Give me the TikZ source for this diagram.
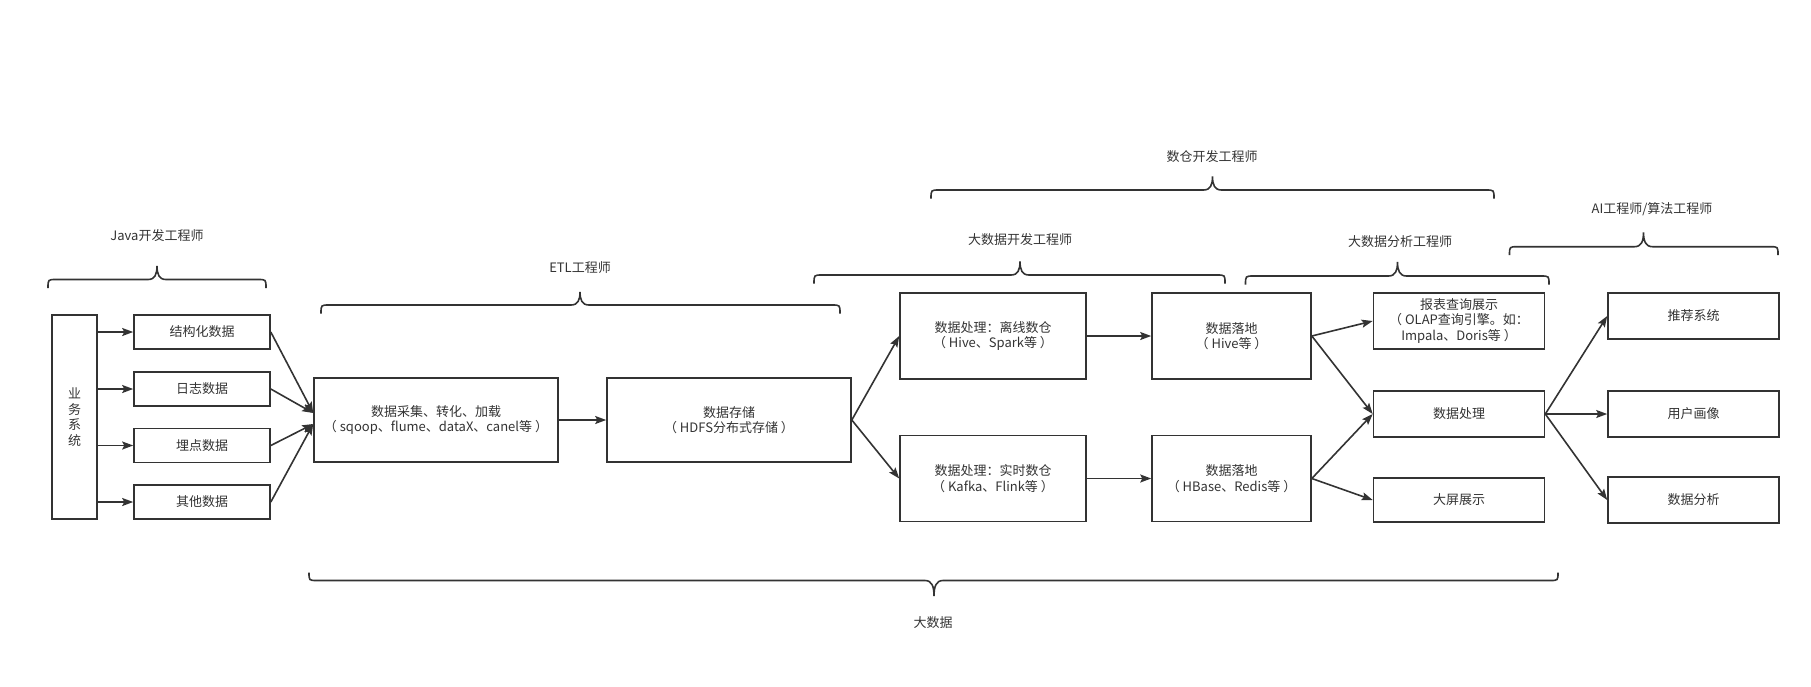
\documentclass[tikz,border=0pt]{standalone}
\usepackage{fontspec}
\setmainfont{Noto Sans CJK SC}
\usetikzlibrary{arrows.meta,calc}
\definecolor{lc}{HTML}{333333}
\definecolor{tc}{HTML}{333333}
\newcommand{\mybrace}[6]{% x1,x2,xt,yline,yend,ytip
  \draw[bracestyle] (#1,#5) .. controls (#1,#4) .. ({#1+8},#4) -- ({#3-9},#4)
    .. controls ({#3-2},#4) and (#3,{#4+(#6-#4)*0.4}) .. (#3,#6)
    .. controls (#3,{#4+(#6-#4)*0.4}) and ({#3+2},#4) .. ({#3+9},#4)
    -- ({#2-8},#4) .. controls (#2,#4) .. (#2,#5);}
\begin{document}
\begin{tikzpicture}[x=1pt,y=-1pt,
  box/.style={draw=lc, line width=1.6pt, inner sep=0pt, align=center, text=tc,
    font=\fontsize{13}{15.5}\selectfont},
  lbl/.style={inner sep=0pt, text=tc, font=\fontsize{13}{15.5}\selectfont},
  arr/.style={draw=lc, line width=1.6pt, -{Stealth[length=11pt,width=8pt,inset=2pt]}},
  bracestyle/.style={draw=lc, line width=1.6pt}]
\useasboundingbox (0,0) rectangle (1811,686);
% nodes
\node[box, minimum width=45pt, minimum height=204pt] (sys) at (74.5,417)
  {\baselineskip=17pt 业\\务\\系\\统};
\node[box, minimum width=136pt, minimum height=34pt] (s1) at (202,332) {结构化数据};
\node[box, minimum width=136pt, minimum height=34pt] (s2) at (202,389) {日志数据};
\node[box, minimum width=136pt, minimum height=34pt] (s3) at (202,445.5) {埋点数据};
\node[box, minimum width=136pt, minimum height=34pt] (s4) at (202,502) {其他数据};
\node[box, minimum width=244pt, minimum height=84pt] (etl) at (436,420)
  {数据采集、转化、加载\\（ sqoop、flume、dataX、canel等 ）};
\node[box, minimum width=244pt, minimum height=84pt] (store) at (729,420)
  {数据存储\\（ HDFS分布式存储 ）};
\node[box, minimum width=186pt, minimum height=86pt] (off) at (993,336)
  {数据处理：离线数仓\\（ Hive、Spark等 ）};
\node[box, minimum width=186pt, minimum height=86pt] (rt) at (993,478.5)
  {数据处理：实时数仓\\（ Kafka、Flink等 ）};
\node[box, minimum width=159pt, minimum height=86pt] (hive) at (1231.5,336)
  {数据落地\\（ Hive等 ）};
\node[box, minimum width=159pt, minimum height=86pt] (hbase) at (1231.5,478.5)
  {数据落地\\（ HBase、Redis等 ）};
\node[box, minimum width=171pt, minimum height=56pt] (rep) at (1459,321)
  {报表查询展示\\（ OLAP查询引擎。如：\\Impala、Doris等 ）};
\node[box, minimum width=171pt, minimum height=46pt] (proc) at (1459,414) {数据处理};
\node[box, minimum width=171pt, minimum height=44pt] (scr) at (1459,500) {大屏展示};
\node[box, minimum width=171pt, minimum height=46pt] (rec) at (1693.5,316) {推荐系统};
\node[box, minimum width=171pt, minimum height=46pt] (user) at (1693.5,414) {用户画像};
\node[box, minimum width=171pt, minimum height=46pt] (ana) at (1693.5,500) {数据分析};
% connectors
\foreach \s in {s1,s2,s3,s4} \draw[arr] (\s -| sys.east) -- (\s.west);
\coordinate (etlA) at ([yshift=7pt]etl.west);
\coordinate (etlB) at ([yshift=-4pt]etl.west);
\draw[arr] (s1.east) -- (etlA);
\draw[arr] (s2.east) -- (etlA);
\draw[arr] (s3.east) -- (etlB);
\draw[arr] (s4.east) -- (etlB);
\draw[arr] (etl.east) -- (store.west);
\draw[arr] (store.east) -- (off.west);
\draw[arr] (store.east) -- (rt.west);
\draw[arr] (off.east) -- (hive.west);
\draw[arr] (rt.east) -- (hbase.west);
\draw[arr] (hive.east) -- (rep.west);
\draw[arr] (hive.east) -- (proc.west);
\draw[arr] (hbase.east) -- (proc.west);
\draw[arr] (hbase.east) -- (scr.west);
\draw[arr] (proc.east) -- (rec.west);
\draw[arr] (proc.east) -- (user.west);
\draw[arr] (proc.east) -- (ana.west);
% braces
\mybrace{48}{266}{157}{279.5}{288}{266}
\mybrace{321}{840}{580}{305}{313.5}{292}
\mybrace{814}{1225}{1020}{275}{283.5}{261.5}
\mybrace{931}{1494}{1212.5}{190}{198.5}{176.5}
\mybrace{1245.5}{1549}{1397.5}{276}{284.5}{262}
\mybrace{1509.5}{1778}{1643.5}{246.7}{255}{232.3}
\mybrace{309}{1558}{934}{580.5}{572.5}{596}
% labels
\node[lbl] (ljava) at (157,236) {Java开发工程师};
\node[lbl] (letl) at (580,268) {ETL工程师};
\node[lbl] (ldev) at (1020,240) {大数据开发工程师};
\node[lbl] (lwh) at (1212,156.5) {数仓开发工程师};
\node[lbl] (lana) at (1400,241.5) {大数据分析工程师};
\node[lbl] (lai) at (1652,209) {AI工程师/算法工程师};
\node[lbl] (lbig) at (933,623) {大数据};
\end{tikzpicture}
\end{document}
